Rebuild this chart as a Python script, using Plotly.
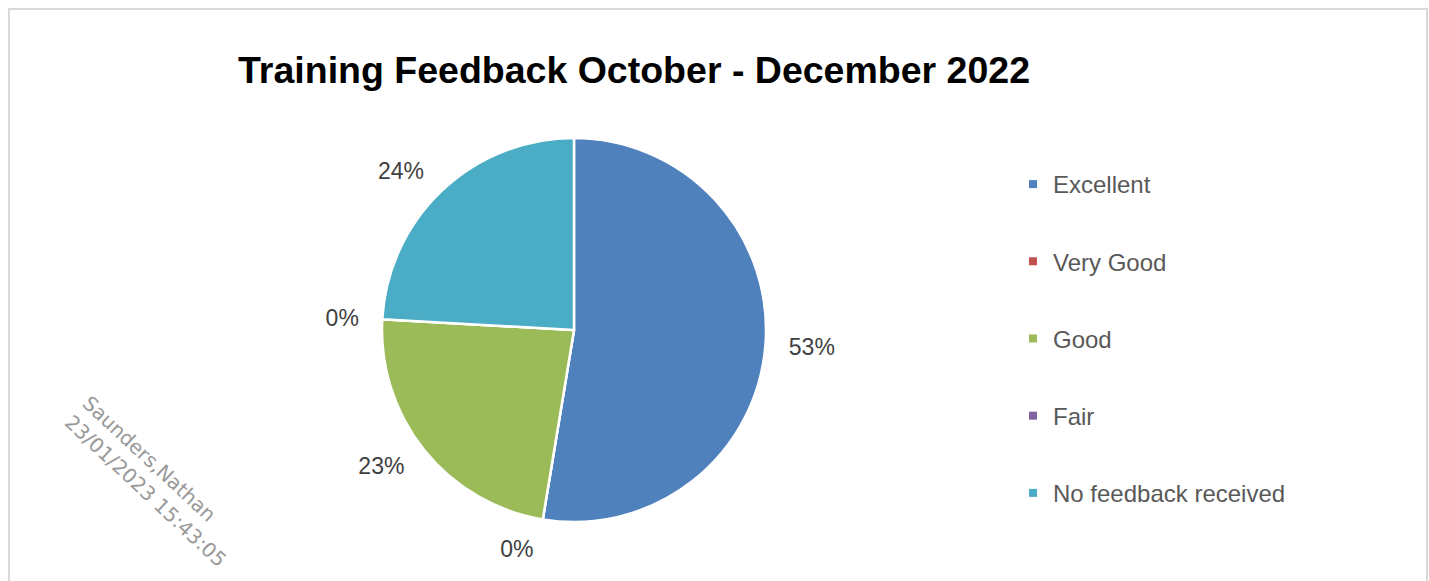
import plotly.graph_objects as go

categories = ["Excellent", "Very Good", "Good", "Fair", "No feedback received"]
values = [52.6, 0, 23.3, 0, 24.1]
colors = ["#4F81BD", "#C0504D", "#9BBB59", "#8064A2", "#4BACC6"]
title_text = "Training Feedback October - December 2022"
watermark = "Saunders,Nathan<br>23/01/2023 15:43:05"

W, H = 1429, 581
CX, CY, R = 574, 330, 192
RL = R + 17  # radius of the (invisible) label ring

fig = go.Figure()
# visible pie
fig.add_trace(go.Pie(
    labels=categories, values=values, sort=False, direction="clockwise", rotation=0,
    marker=dict(colors=colors, line=dict(color="white", width=2.5)),
    textinfo="none",
    domain=dict(x=[(CX - R) / W, (CX + R) / W], y=[1 - (CY + R) / H, 1 - (CY - R) / H]),
    showlegend=False, hoverinfo="label+percent",
))
# transparent slightly larger pie that carries the data labels
fig.add_trace(go.Pie(
    labels=categories, values=values, sort=False, direction="clockwise", rotation=0,
    marker=dict(colors=["rgba(0,0,0,0)"] * len(values), line=dict(width=0)),
    texttemplate="%{percent:.0%}", textposition="outside",
    textfont=dict(family="Liberation Sans, Arial", size=23, color="#404040"),
    domain=dict(x=[(CX - RL) / W, (CX + RL) / W], y=[1 - (CY + RL) / H, 1 - (CY - RL) / H]),
    showlegend=False, hoverinfo="skip",
))

for name, col in zip(categories, colors):
    fig.add_trace(go.Scatter(
        x=[None], y=[None], mode="markers", name=name, legendgroup=name,
        marker=dict(symbol="square", size=8, color=col),
    ))

fig.update_layout(
    width=W, height=H,
    margin=dict(l=0, r=0, t=0, b=0),
    paper_bgcolor="white", plot_bgcolor="white",
    xaxis=dict(visible=False), yaxis=dict(visible=False),
    title=dict(text="<b>" + title_text + "</b>", x=634 / W, xanchor="center",
               y=1 - 70 / H, yanchor="middle",
               font=dict(family="Liberation Sans, Arial", size=37.5, color="black")),
    legend=dict(x=1013 / W, y=1 - 162 / H, xanchor="left", yanchor="top",
                tracegroupgap=43, itemwidth=30,
                font=dict(family="Liberation Sans, Arial", size=24, color="#595959"),
                bgcolor="rgba(0,0,0,0)"),
    shapes=[dict(type="rect", xref="paper", yref="paper",
                 x0=9 / W, x1=1427 / W, y0=-0.2, y1=1 - 9 / H,
                 line=dict(color="#D9D9D9", width=2), fillcolor="rgba(0,0,0,0)")],
    annotations=[dict(text=watermark, xref="paper", yref="paper",
                      x=154 / W, y=1 - 481 / H, xanchor="center", yanchor="middle",
                      showarrow=False, textangle=43, align="left",
                      font=dict(family="DejaVu Sans", size=20, color="#999999"))],
)

fig.write_html("out.html", config={"displayModeBar": False},
               post_script="document.body.style.margin='0';")
